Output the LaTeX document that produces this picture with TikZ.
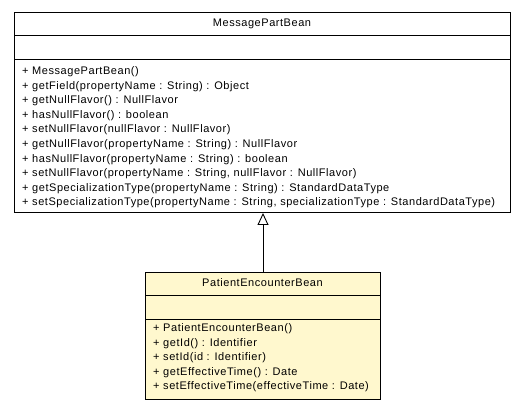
\documentclass[tikz,border=0pt]{standalone}
\usepackage{fontspec}
\setmainfont[LetterSpace=5]{Liberation Sans}
\usetikzlibrary{arrows.meta}
\definecolor{beanfill}{RGB}{255,248,206}
\tikzset{
  x=1pt, y=1pt,
  box/.style={draw=black, line width=1pt, rectangle, inner sep=0pt, anchor=north west},
  txt/.style={inner sep=0pt, anchor=base west, font=\fontsize{11}{12}\selectfont},
  ttl/.style={inner sep=0pt, anchor=base, font=\fontsize{11}{12}\selectfont},
  inherit/.style={draw=black, line width=0.9pt, -{Triangle[open, length=12pt, width=11pt, line width=0.9pt]}},
}
\begin{document}
\begin{tikzpicture}
\useasboundingbox (0,0) rectangle (525,-411);
% MessagePartBean
\node[box, minimum width=496, minimum height=23] (mpbT) at (14,-12) {};
\node[box, minimum width=496, minimum height=24] (mpbA) at (14,-35) {};
\node[box, minimum width=496, minimum height=153] (mpbO) at (14,-59) {};
\node[ttl] (mpbN) at (262,-27) {MessagePartBean};
\node[txt] (m1) at (22,-74.5) {+ MessagePartBean()};
\node[txt] (m2) at (22,-89.1) {+ getField(propertyName : String) : Object};
\node[txt] (m3) at (22,-103.7) {+ getNullFlavor() : NullFlavor};
\node[txt] (m4) at (22,-118.3) {+ hasNullFlavor() : boolean};
\node[txt] (m5) at (22,-132.9) {+ setNullFlavor(nullFlavor : NullFlavor)};
\node[txt] (m6) at (22,-147.5) {+ getNullFlavor(propertyName : String) : NullFlavor};
\node[txt] (m7) at (22,-162.1) {+ hasNullFlavor(propertyName : String) : boolean};
\node[txt] (m8) at (22,-176.7) {+ setNullFlavor(propertyName : String, nullFlavor : NullFlavor)};
\node[txt] (m9) at (22,-191.3) {+ getSpecializationType(propertyName : String) : StandardDataType};
\node[txt] (m10) at (22,-205.9) {+ setSpecializationType(propertyName : String, specializationType : StandardDataType)};
% PatientEncounterBean
\node[box, fill=beanfill, minimum width=235, minimum height=23] (pebT) at (145,-272) {};
\node[box, fill=beanfill, minimum width=235, minimum height=24] (pebA) at (145,-295) {};
\node[box, fill=beanfill, minimum width=235, minimum height=80] (pebO) at (145,-319) {};
\node[ttl] (pebN) at (262.5,-287) {PatientEncounterBean};
\node[txt] (p1) at (153,-331.5) {+ PatientEncounterBean()};
\node[txt] (p2) at (153,-346.1) {+ getId() : Identifier};
\node[txt] (p3) at (153,-360.7) {+ setId(id : Identifier)};
\node[txt] (p4) at (153,-375.3) {+ getEffectiveTime() : Date};
\node[txt] (p5) at (153,-389.9) {+ setEffectiveTime(effectiveTime : Date)};
% inheritance
\draw[inherit] (pebT.north) -- (pebT.north |- mpbO.south);
\end{tikzpicture}
\end{document}
